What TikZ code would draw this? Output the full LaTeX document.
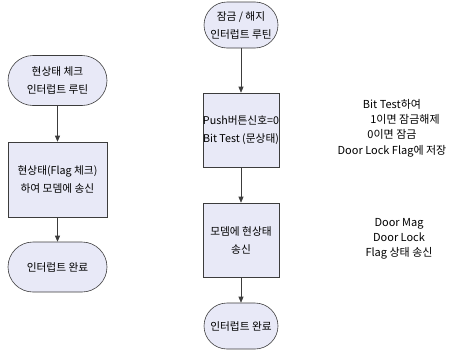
\documentclass[tikz,border=0pt]{standalone}
\usepackage{fontspec}
\setmainfont{Noto Sans CJK KR}
\usetikzlibrary{arrows.meta}
\definecolor{boxfill}{RGB}{232,233,247}
\definecolor{boxline}{RGB}{60,60,60}
\tikzset{
  base/.style={draw=boxline, line width=0.6pt, fill=boxfill, align=center, inner sep=0pt,
    font=\fontsize{10.7}{18}\selectfont},
  term/.style={base, rounded corners=23pt},
  proc/.style={base},
  side/.style={align=center, inner sep=0pt, font=\fontsize{11}{15.3}\selectfont},
  conn/.style={draw=boxline, line width=0.6pt, -{Triangle[length=6pt,width=5pt]}}
}
\begin{document}
\begin{tikzpicture}[x=1pt,y=-1pt]
\useasboundingbox (0,0) rectangle (449,351);
% left column
\node[term, minimum width=99pt, minimum height=50pt, rounded corners=25pt] (t1) at (57.5,80.5) {현상태 체크\\인터럽트 루틴};
\node[proc, minimum width=99pt, minimum height=75pt] (b1) at (57.5,179.5) {현상태(Flag 체크)\\하여 모뎀에 송신};
\node[term, minimum width=99pt, minimum height=50pt, rounded corners=25pt] (t2) at (57.5,267) {인터럽트 완료};
\draw[conn] (t1) -- (b1);
\draw[conn] (b1) -- (t2);
% right column
\node[term, minimum width=74pt, minimum height=46pt] (r1) at (241,25) {잠금 / 해지\\인터럽트 루틴};
\node[proc, minimum width=76pt, minimum height=74pt] (rb1) at (241,130) {Push버튼신호=0\\Bit Test (문상태)};
\node[proc, minimum width=76pt, minimum height=74pt] (rb2) at (241,240) {모뎀에 현상태\\송신};
\node[term, minimum width=74pt, minimum height=46pt] (r2) at (241,326) {인터럽트 완료};
\draw[conn] (r1) -- (rb1);
\draw[conn] (rb1) -- (rb2);
\draw[conn] (rb2) -- (r2);
% side notes
\node[side] (s1) at (392,128) {Bit Test하여\\\hspace*{26pt}1이면 잠금해제\\0이면 잠금\\Door Lock Flag에 저장};
\node[side] (s2) at (399,239) {Door Mag\\Door Lock\\Flag 상태 송신};
\end{tikzpicture}
\end{document}
